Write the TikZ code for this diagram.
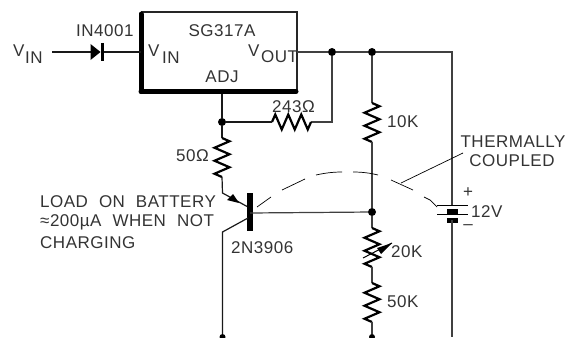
\documentclass[tikz,border=0pt]{standalone}
\usepackage{fontspec}
\setmainfont[LetterSpace=3,WordSpace=2.1]{Liberation Sans}
\usetikzlibrary{decorations.pathmorphing,arrows.meta}
\tikzset{
  x=1pt,y=-1pt,
  wire/.style={line width=1.2pt,color=black!75},
  thinwire/.style={line width=1.2pt,color=black!90},
  res/.style={line width=2.2pt,black,line join=miter,decorate,decoration={zigzag,amplitude=7.5pt,segment length=13pt}},
  dotn/.style={circle,fill=black,inner sep=0pt,minimum size=8pt},
  lab/.style={inner sep=0pt,font=\fontsize{17}{17}\selectfont,color=black!80},
  dashline/.style={line width=.7pt,black},
}
\begin{document}
\begin{tikzpicture}
\useasboundingbox (0,0) rectangle (572,337);
% coordinates
\coordinate (vinL) at (52,52);
\coordinate (reg) at (141,52);
\coordinate (dA) at (91,52);
\coordinate (dK) at (102,52);
\coordinate (regOut) at (297,52);
\coordinate (regAdj) at (222,94);
\node[dotn] (j1) at (332,52) {};
\node[dotn] (j2) at (372,52) {};
\coordinate (cor1) at (452,52);
\node[dotn] (j3) at (222,122) {};
\node[dotn] (j4) at (372,212) {};
\coordinate (r1a) at (272,122);
\coordinate (r1b) at (311,122);
\coordinate (cor2) at (332,122);
\coordinate (r2a) at (222,138);
\coordinate (r2b) at (222,177);
\coordinate (em0) at (222.5,193);
\coordinate (em1) at (248,207);
\coordinate (col1) at (248,218);
\coordinate (col2) at (222.5,232);
\node[dotn,minimum size=6pt] (bot1) at (222.5,337) {};
\coordinate (r3a) at (372,103);
\coordinate (r3b) at (372,142);
\coordinate (r4a) at (372,228);
\coordinate (r4b) at (372,267);
\coordinate (r5a) at (372,283);
\coordinate (r5b) at (372,322);
\node[dotn,minimum size=6pt] (bot2) at (372,337) {};
\coordinate (batTop) at (452,205);
\coordinate (batBot) at (452,220);
\coordinate (botR) at (452,337);
\coordinate (base) at (250,213);
% regulator
\draw[line width=1.3pt,color=black!85] (141,12) -- (297,12) -- (297,92);
\draw[line width=5pt,black,line cap=round] (141,91.5) -- (141,14);
\draw[line width=5pt,black,line cap=round] (141,91.5) -- (296,91.5);
% input
\draw[thinwire] (vinL) -- (dA);
\draw[thinwire] (dK) -- (reg);
\fill[black] (90.5,44) -- (100.5,52) -- (90.5,60) -- cycle;
\draw[line width=3pt,black] (dK |- 0,43) -- (dK |- 0,61);
% output rail
\draw[wire] (regOut) -- (j1) -- (j2) -- (cor1) -- (batTop);
\draw[wire] (j1) -- (cor2) -- (r1b);
\draw[res] (r1a) -- (r1b);
\draw[thinwire] (j3) -- (r1a);
\draw[thinwire] (regAdj) -- (j3) -- (r2a);
\draw[res] (r2a) -- (r2b);
\draw[thinwire] (r2b) -- (em0) -- (em1);
\fill[black] (239,203) -- (227,200) -- (233,194) -- cycle;
\draw[line width=6pt,black] (250,193) -- (250,231);
\draw[wire] (base) -- (j4);
\draw[thinwire] (col1) -- (col2) -- (bot1);
% right branch
\draw[wire] (j2) -- (r3a);
\draw[res] (r3a) -- (r3b);
\draw[wire] (r3b) -- (j4) -- (r4a);
\draw[res] (r4a) -- (r4b);
\draw[wire] (r4b) -- (r5a);
\draw[res] (r5a) -- (r5b);
\draw[wire] (r5b) -- (bot2);
\coordinate (va) at (363,258);
\coordinate (vb) at (392,243);
\draw[line width=1pt,black] (va) -- (vb);
\fill[black] (392,243) -- (377,248) -- (381,254) -- cycle;
% battery
\draw[line width=1pt,black] (437,205) -- (468,205);
\draw[line width=5pt,black] (447,211) -- (458,211);
\draw[line width=1pt,black] (437,214) -- (468,214);
\draw[line width=5pt,black] (447,220.5) -- (458,220.5);
\draw[wire] (batBot) -- (botR);
% thermal coupling
\draw[dashline] (257,207) -- (271,197);
\draw[dashline] (282,190) -- (305,179);
\draw[dashline] (316,175) .. controls (325,173) and (333,172) .. (342,172);
\draw[dashline] (353,172) .. controls (362,172) and (370,173) .. (378,175);
\draw[dashline] (391,180) -- (413,190);
\draw[dashline] (424,197) -- (430,200) -- (437,207);
\coordinate (lead1) at (401,183);
\coordinate (lead2) at (463,153);
\draw[dashline] (lead1) -- (lead2);
% labels
\node[lab,anchor=west] (t1) at (13,51) {V};
\node[lab,anchor=west] (t2) at (25,58) {IN};
\node[lab,anchor=west] (t3) at (76,31) {IN4001};
\node[lab] (t4) at (222,31) {SG317A};
\node[lab,anchor=west] (t5) at (148,51) {V};
\node[lab,anchor=west] (t6) at (162,58) {IN};
\node[lab,anchor=west] (t7) at (248,51) {V};
\node[lab,anchor=west] (t8) at (261,57) {OUT};
\node[lab] (t9) at (222,77) {ADJ};
\node[lab,anchor=west] (t10) at (272,107) {243Ω};
\node[lab,anchor=west] (t11) at (176,156) {50Ω};
\node[lab,anchor=west] (t12) at (387,122) {10K};
\node[lab] (t13) at (513,142) {THERMALLY};
\node[lab] (t14) at (512,161) {COUPLED};
\node[lab,anchor=west] (t15) at (40,202) {LOAD ON BATTERY};
\node[lab,anchor=west] (t16) at (40,222) {≈200µA WHEN NOT};
\node[lab,anchor=west] (t17) at (40,243) {CHARGING};
\node[lab,anchor=west] (t18) at (231,248) {2N3906};
\node[lab] (t19) at (468,193) {+};
\node[lab] (t20) at (468,227) {–};
\node[lab,anchor=west] (t21) at (471,212) {12V};
\node[lab,anchor=west] (t22) at (391,252) {20K};
\node[lab,anchor=west] (t23) at (387,302) {50K};
\end{tikzpicture}
\end{document}
